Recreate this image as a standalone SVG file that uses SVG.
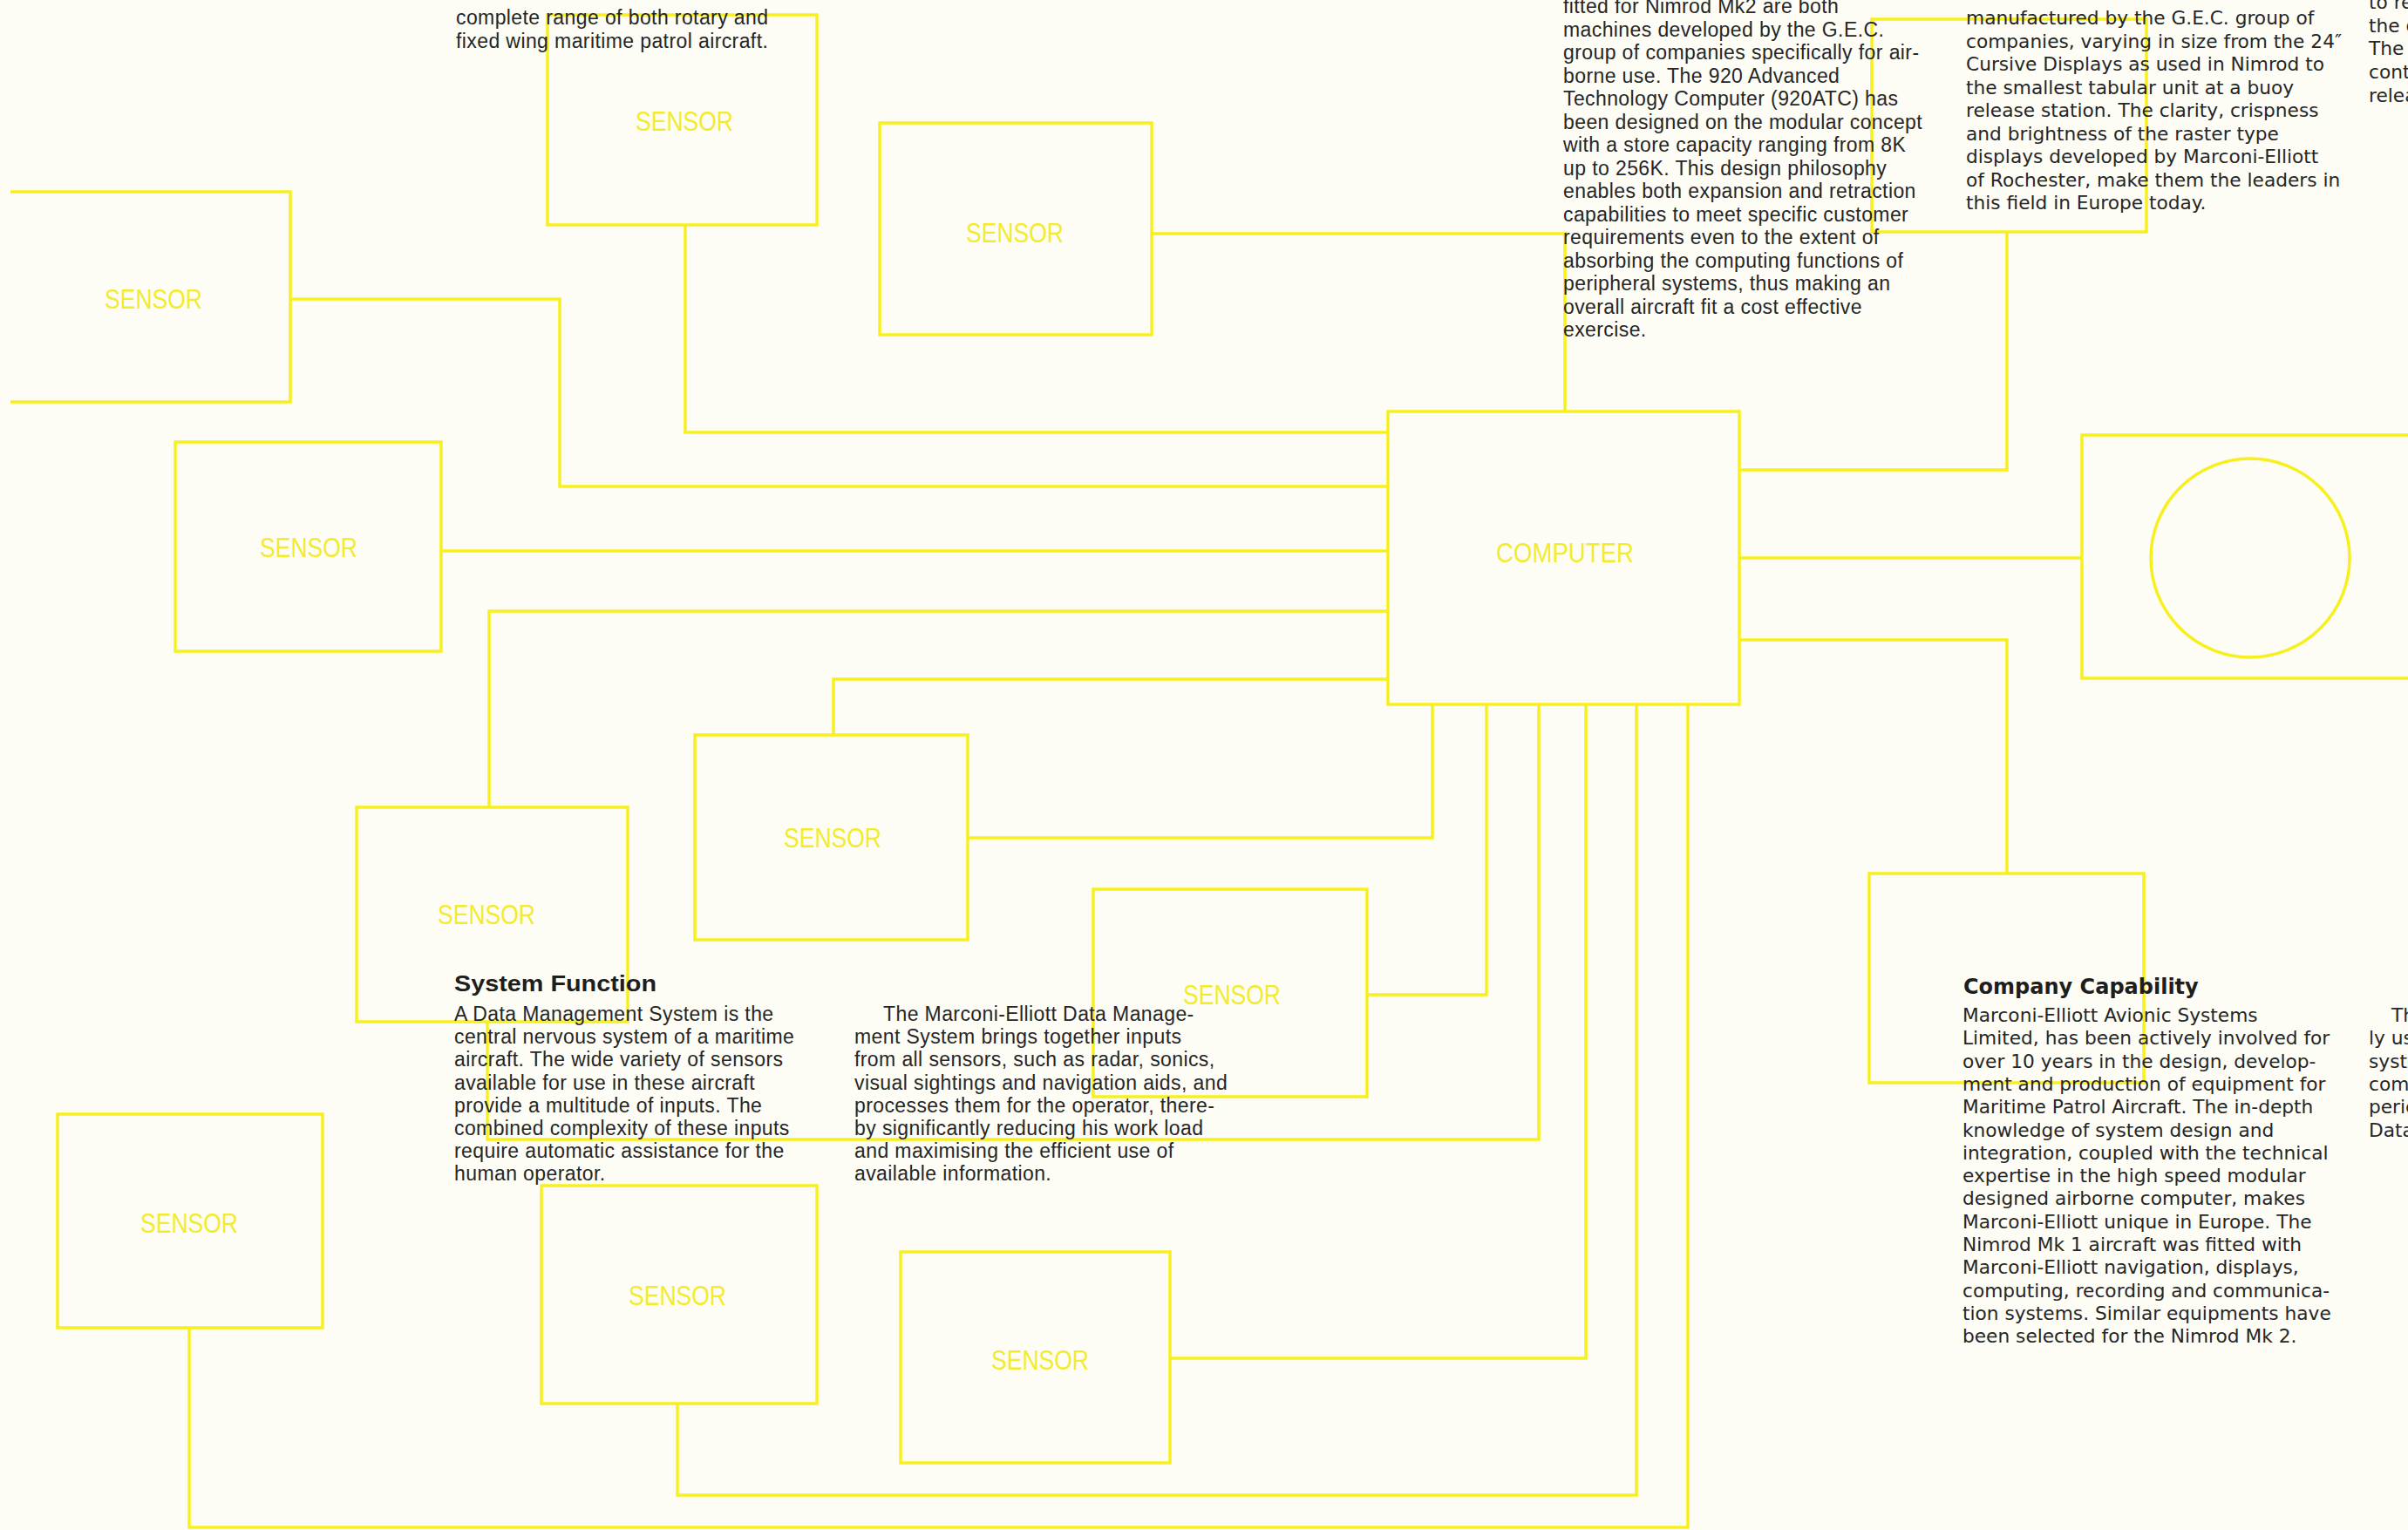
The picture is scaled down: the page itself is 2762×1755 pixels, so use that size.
<svg xmlns="http://www.w3.org/2000/svg" width="2762" height="1755" viewBox="0 0 2762 1755">
<style>
.bx{fill:none;stroke:#f7ef1e;stroke-width:3.5;stroke-linejoin:miter}
.cn{fill:none;stroke:#f7ef1e;stroke-width:3.5}
.lb{font-family:"Liberation Sans",Arial,sans-serif;font-size:32px;fill:#f3eb2e;text-anchor:middle}
.t1{font-family:"Liberation Sans",Arial,sans-serif;font-size:23px;fill:#262626;letter-spacing:0.4px}
.t3{font-family:"DejaVu Sans",sans-serif;font-size:21.7px;fill:#262626}
.h1{font-family:"Liberation Sans",Arial,sans-serif;font-size:25px;font-weight:bold;fill:#1e1e1e}
.h3{font-family:"DejaVu Sans",sans-serif;font-size:24px;font-weight:bold;fill:#1e1e1e}
</style>
<rect x="0" y="0" width="2762" height="1755" fill="#fdfdf6"/>
<g id="connectors">
<path class="cn" d="M786,258 V496 H1592"/>
<path class="cn" d="M333,343 H642 V558 H1592"/>
<path class="cn" d="M506,632 H1592"/>
<path class="cn" d="M561,926 V701 H1592"/>
<path class="cn" d="M956,843 V779 H1592"/>
<path class="cn" d="M1321,268 H1795 V472"/>
<path class="cn" d="M2302,266 V539 H1995"/>
<path class="cn" d="M1995,640 H2388"/>
<path class="cn" d="M1995,734 H2302 V1002"/>
<path class="cn" d="M1110,961 H1643 V808"/>
<path class="cn" d="M1568,1141 H1705 V808"/>
<path class="cn" d="M559,1172 V1307 H1765 V808"/>
<path class="cn" d="M1342,1558 H1819 V808"/>
<path class="cn" d="M777,1610 V1715 H1877 V808"/>
<path class="cn" d="M217,1523 V1752 H1936 V808"/>
</g>
<g id="sensorA"><rect class="bx" x="628" y="17" width="309" height="241"/><text class="lb" x="785" y="150" textLength="112" lengthAdjust="spacingAndGlyphs">SENSOR</text></g>
<g id="sensorB"><rect class="bx" x="1009" y="141" width="312" height="243"/><text class="lb" x="1164" y="278" textLength="112" lengthAdjust="spacingAndGlyphs">SENSOR</text></g>
<g id="sensorC"><path class="bx" d="M12,220 H333 V461 H12"/><text class="lb" x="176" y="354" textLength="112" lengthAdjust="spacingAndGlyphs">SENSOR</text></g>
<g id="sensorD"><rect class="bx" x="201" y="507" width="305" height="240"/><text class="lb" x="354" y="639" textLength="112" lengthAdjust="spacingAndGlyphs">SENSOR</text></g>
<g id="computer"><rect class="bx" x="1592" y="472" width="403" height="336"/><text class="lb" x="1795" y="645" textLength="158" lengthAdjust="spacingAndGlyphs">COMPUTER</text></g>
<g id="sensorE"><rect class="bx" x="797" y="843" width="313" height="235"/><text class="lb" x="955" y="972" textLength="112" lengthAdjust="spacingAndGlyphs">SENSOR</text></g>
<g id="sensorF"><rect class="bx" x="409" y="926" width="311" height="246"/><text class="lb" x="558" y="1060" textLength="112" lengthAdjust="spacingAndGlyphs">SENSOR</text></g>
<g id="sensorG"><rect class="bx" x="1254" y="1020" width="314" height="238"/><text class="lb" x="1413" y="1152" textLength="112" lengthAdjust="spacingAndGlyphs">SENSOR</text></g>
<g id="sensorH"><rect class="bx" x="66" y="1278" width="304" height="245"/><text class="lb" x="217" y="1414" textLength="112" lengthAdjust="spacingAndGlyphs">SENSOR</text></g>
<g id="sensorI"><rect class="bx" x="621" y="1360" width="316" height="250"/><text class="lb" x="777" y="1497" textLength="112" lengthAdjust="spacingAndGlyphs">SENSOR</text></g>
<g id="sensorJ"><rect class="bx" x="1033" y="1436" width="309" height="242"/><text class="lb" x="1193" y="1571" textLength="112" lengthAdjust="spacingAndGlyphs">SENSOR</text></g>
<g id="displayK"><rect class="bx" x="2147" y="22" width="315" height="244"/></g>
<g id="displayL"><rect class="bx" x="2388" y="499" width="420" height="279"/><circle class="bx" cx="2581" cy="640" r="114"/></g>
<g id="unitM"><rect class="bx" x="2144" y="1002" width="315" height="240"/></g>
<g id="text-top-left">
<text class="t1" x="523" y="28">complete range of both rotary and</text>
<text class="t1" x="523" y="55">fixed wing maritime patrol aircraft.</text>
</g>
<g id="text-computer">
<text class="t1" x="1793" y="15">fitted for Nimrod  Mk2 are both</text>
<text class="t1" x="1793" y="41.5">machines developed by the G.E.C.</text>
<text class="t1" x="1793" y="68">group of companies specifically for air-</text>
<text class="t1" x="1793" y="94.5">borne use.  The 920 Advanced</text>
<text class="t1" x="1793" y="121">Technology Computer (920ATC) has</text>
<text class="t1" x="1793" y="147.5">been designed on the modular concept</text>
<text class="t1" x="1793" y="174">with a store capacity ranging from 8K</text>
<text class="t1" x="1793" y="200.5">up to 256K.  This design philosophy</text>
<text class="t1" x="1793" y="227">enables both expansion and retraction</text>
<text class="t1" x="1793" y="253.5">capabilities to meet specific customer</text>
<text class="t1" x="1793" y="280">requirements even to the extent of</text>
<text class="t1" x="1793" y="306.5">absorbing the computing functions of</text>
<text class="t1" x="1793" y="333">peripheral systems, thus making an</text>
<text class="t1" x="1793" y="359.5">overall aircraft fit a cost effective</text>
<text class="t1" x="1793" y="386">exercise.</text>
</g>
<g id="text-displays">
<text class="t3" x="2255" y="28">manufactured by the G.E.C. group of</text>
<text class="t3" x="2255" y="54.5">companies, varying in size from the 24″</text>
<text class="t3" x="2255" y="81">Cursive Displays as used in Nimrod to</text>
<text class="t3" x="2255" y="107.5">the smallest tabular unit at a buoy</text>
<text class="t3" x="2255" y="134">release station.  The clarity, crispness</text>
<text class="t3" x="2255" y="160.5">and brightness of the raster type</text>
<text class="t3" x="2255" y="187">displays developed by Marconi-Elliott</text>
<text class="t3" x="2255" y="213.5">of Rochester, make them the leaders in</text>
<text class="t3" x="2255" y="240">this field in Europe today.</text>
</g>
<g id="text-right-top">
<text class="t3" x="2717" y="10">to re</text>
<text class="t3" x="2717" y="37">the c</text>
<text class="t3" x="2717" y="63">The</text>
<text class="t3" x="2717" y="90">cont</text>
<text class="t3" x="2717" y="117">relea</text>
</g>
<g id="text-system-function">
<text class="h1" x="521" y="1137" textLength="232" lengthAdjust="spacingAndGlyphs">System Function</text>
<text class="t1" x="521" y="1171">A Data Management System is the</text>
<text class="t1" x="521" y="1197.2">central nervous system of a maritime</text>
<text class="t1" x="521" y="1223.4">aircraft.  The wide variety of sensors</text>
<text class="t1" x="521" y="1249.6">available for use in these aircraft</text>
<text class="t1" x="521" y="1275.8">provide a multitude of inputs.  The</text>
<text class="t1" x="521" y="1302">combined complexity of these inputs</text>
<text class="t1" x="521" y="1328.2">require automatic assistance for the</text>
<text class="t1" x="521" y="1354.4">human operator.</text>
<text class="t1" x="1013" y="1171">The Marconi-Elliott Data Manage-</text>
<text class="t1" x="980" y="1197.2">ment System brings together inputs</text>
<text class="t1" x="980" y="1223.4">from all sensors, such as radar, sonics,</text>
<text class="t1" x="980" y="1249.6">visual sightings and navigation aids, and</text>
<text class="t1" x="980" y="1275.8">processes them for the operator, there-</text>
<text class="t1" x="980" y="1302">by significantly reducing his work load</text>
<text class="t1" x="980" y="1328.2">and maximising the efficient use of</text>
<text class="t1" x="980" y="1354.4">available information.</text>
</g>
<g id="text-company-capability">
<text class="h3" x="2252" y="1140">Company  Capability</text>
<text class="t3" x="2251" y="1172">Marconi-Elliott Avionic Systems</text>
<text class="t3" x="2251" y="1198.3">Limited, has been actively involved for</text>
<text class="t3" x="2251" y="1224.6">over 10 years in the design, develop-</text>
<text class="t3" x="2251" y="1250.9">ment and production of equipment for</text>
<text class="t3" x="2251" y="1277.2">Maritime Patrol Aircraft.  The in-depth</text>
<text class="t3" x="2251" y="1303.5">knowledge of system design and</text>
<text class="t3" x="2251" y="1329.8">integration, coupled with the technical</text>
<text class="t3" x="2251" y="1356.1">expertise in the high speed modular</text>
<text class="t3" x="2251" y="1382.4">designed airborne computer, makes</text>
<text class="t3" x="2251" y="1408.7">Marconi-Elliott unique in Europe.  The</text>
<text class="t3" x="2251" y="1435">Nimrod Mk 1 aircraft was fitted with</text>
<text class="t3" x="2251" y="1461.3">Marconi-Elliott navigation, displays,</text>
<text class="t3" x="2251" y="1487.6">computing, recording and communica-</text>
<text class="t3" x="2251" y="1513.9">tion  systems. Similar equipments have</text>
<text class="t3" x="2251" y="1540.2">been selected for the Nimrod Mk 2.</text>
</g>
<g id="text-right-bottom">
<text class="t3" x="2743" y="1172">Th</text>
<text class="t3" x="2717" y="1198.3">ly us</text>
<text class="t3" x="2717" y="1224.6">syste</text>
<text class="t3" x="2717" y="1250.9">comp</text>
<text class="t3" x="2717" y="1277.2">perie</text>
<text class="t3" x="2717" y="1303.5">Data</text>
</g>
</svg>
